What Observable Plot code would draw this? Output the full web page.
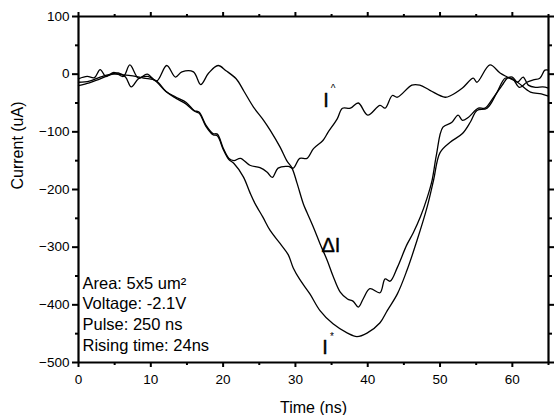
<!DOCTYPE html>
<html>
<head>
<meta charset="utf-8">
<script src="https://cdn.jsdelivr.net/npm/d3@7"></script>
<script src="https://cdn.jsdelivr.net/npm/@observablehq/plot@0.6"></script>
<style>
html, body { margin: 0; padding: 0; background: #fff; }
#chart { width: 554px; height: 415px; }
</style>
</head>
<body>
<div id="chart"></div>
<script>
// ΔI series
const dITime = [0,1.2,2.2,3.0,3.8,4.9,6.2,7.1,8.3,9.5,10.8,12.2,13.4,14.3,15.9,16.9,18.0,19.3,20.4,21.8,22.9,24.2,25.6,26.5,27.9,28.8,29.5,30.2,31.1,31.6,32.5,33.4,34.4,35.2,36.2,37.2,38.0,38.7,39.4,40.3,41.7,42.4,43.1,44.1,45.4,46.3,47.3,48.2,48.9,49.5,50.4,51.6,52.5,53.1,53.9,55.3,56.2,57.3,58.6,59.3,60.0,60.7,61.5,62.2,63.2,64.2,65];
const dIValue = [-8,-4,-6,8,-4,3,-4,16,-7,0,-12,15,-5,4,4,-18,2,15,6,-8,-30,-57,-80,-97,-127,-150,-162,-188,-225,-240,-266,-294,-323,-350,-378,-390,-394,-404,-389,-372,-379,-355,-359,-335,-296,-275,-247,-215,-184,-140,-92,-84,-71,-80,-75,-59,-59,-42,-19,-7,-5,-14,-5,-19,-23,-22,-24];

// I^ series
const iHatTime = [0,1.5,3,4.5,5.5,6.5,7.3,8.3,9.5,10.5,12.1,13.5,14.9,16,16.7,17.6,18.6,19.2,20,20.8,21.5,22.4,23.7,25.1,26.1,26.8,27.6,29,29.7,30.6,31.6,32.5,33.8,34.5,35.8,36.5,37.6,38.7,40,41.7,42.4,43.4,44.1,46.1,47.2,48.6,50.7,51.5,53.1,54.6,55.1,56.9,58.3,59.3,60.7,62.5,64,65];
const iHatValue = [-14,-12,-5,0,2,-5,-22,-8,-4,-10,-30,-40,-49,-63,-66,-88,-103,-104,-128,-146,-150,-146,-158,-162,-170,-179,-163,-160,-163,-146,-146,-129,-115,-101,-77,-59,-59,-50,-71,-54,-59,-37,-40,-19,-19,-28,-40,-37,-24,-7,-14,16,2,-5,-14,-31,-34,-38];

// I* series
const iStarTime = [0,1.5,3,4.8,6,7.5,9,10.7,12.1,13.5,14.9,16,16.7,17.6,18.6,19.2,20,20.8,21.5,22.8,23.7,24.4,25.5,26.5,27.9,29,29.7,30.6,32,33.4,35.2,37.2,38.5,39.9,41.7,42.7,44.1,45.4,46.8,48.2,49.1,50,51.4,53.1,54.2,55.1,56.5,57.9,59,60,61,62,62.9,63.8,64.5,65];
const iStarValue = [-20,-15,-8,0,-1,-3,-7,-11,-30,-42,-52,-64,-68,-90,-105,-107,-130,-148,-155,-178,-205,-224,-248,-271,-294,-313,-336,-356,-381,-410,-433,-449,-455,-449,-431,-410,-381,-341,-289,-231,-184,-136,-118,-103,-83,-63,-59,-31,-7,-8,-23,-14,-10,-7,7,7];

// Axis extents and tick values
const xExtent = [0, 65];
const yExtent = [-500, 100];
const xMajorTicks = [0,10,20,30,40,50,60];
const xMinorTicks = [5,15,25,35,45,55,65];
const yMajorTicks = [-500,-400,-300,-200,-100,0,100];
const yMinorTicks = [-450,-350,-250,-150,-50,50];

// Curve labels (data units)
const labelNames = ["I", "ΔI", "I"];
const labelSups = ["^", "", "*"];
const labelTime = [34.25, 34.9, 34.1];
const labelValue = [-45, -297, -475];

const infoText = "Area: 5x5 um²\nVoltage: -2.1V\nPulse: 250 ns\nRising time: 24ns";

const toRows = (ts, vs, name) => ts.map((t, i) => ({t, v: vs[i], name}));
const series = [
  toRows(dITime, dIValue, "ΔI"),
  toRows(iHatTime, iHatValue, "I^"),
  toRows(iStarTime, iStarValue, "I*")
];
const labels = labelNames.map((n, i) => ({t: labelTime[i], v: labelValue[i], n, s: labelSups[i]}));

const font = "'Liberation Sans', Arial, Helvetica, sans-serif";
const blank = () => "";
const ax = {label: null, stroke: "black", strokeOpacity: 1, strokeWidth: 2, fill: "black"};

const plot = Plot.plot({
  width: 554,
  height: 415,
  marginTop: 16,
  marginRight: 6,
  marginBottom: 53,
  marginLeft: 78,
  style: {fontFamily: font, fontSize: "13.5px", color: "black", background: "white", overflow: "visible"},
  x: {domain: xExtent},
  y: {domain: yExtent},
  marks: [
    ...series.map(s => Plot.line(s, {x: "t", y: "v", curve: "catmull-rom", stroke: "black", strokeWidth: 1.3})),
    Plot.ruleX(xExtent, {stroke: "black", strokeWidth: 2.2}),
    Plot.ruleY(yExtent, {stroke: "black", strokeWidth: 2.2}),
    Plot.axisX(xMajorTicks, {...ax, anchor: "bottom", tickSize: 5, tickPadding: 7, fontSize: 13.5}),
    Plot.axisX(xMinorTicks, {...ax, anchor: "bottom", tickSize: 3, tickFormat: blank}),
    Plot.axisX(xMajorTicks, {...ax, anchor: "top", tickSize: 5, tickFormat: blank}),
    Plot.axisX(xMinorTicks, {...ax, anchor: "top", tickSize: 3, tickFormat: blank}),
    Plot.axisY(yMajorTicks, {...ax, anchor: "left", tickSize: 6, tickPadding: 3, fontSize: 13.5}),
    Plot.axisY(yMinorTicks, {...ax, anchor: "left", tickSize: 3, tickFormat: blank}),
    Plot.axisY(yMajorTicks, {...ax, anchor: "right", tickSize: 5, tickFormat: blank}),
    Plot.axisY(yMinorTicks, {...ax, anchor: "right", tickSize: 3, tickFormat: blank}),
    Plot.text(["Time (ns)"], {frameAnchor: "bottom", dy: 45, lineAnchor: "middle", fontSize: 16, fill: "black"}),
    Plot.text(["Current (uA)"], {frameAnchor: "left", dx: -61, rotate: -90, lineAnchor: "middle", fontSize: 16, fill: "black"}),
    Plot.text([infoText], {frameAnchor: "bottom-left", dx: 4, dy: -12, textAnchor: "start", lineAnchor: "bottom", lineHeight: 1.25, fontSize: 16.5, fill: "black"}),
    Plot.text(labels, {x: "t", y: "v", text: "n", fontSize: 20, lineAnchor: "middle", fill: "black", stroke: "black", strokeWidth: 0.4}),
    Plot.text(labels, {x: "t", y: "v", text: "s", fontSize: 10, dx: 7, dy: -11, lineAnchor: "middle", fill: "black"})
  ]
});
document.getElementById("chart").appendChild(plot);
</script>
</body>
</html>
